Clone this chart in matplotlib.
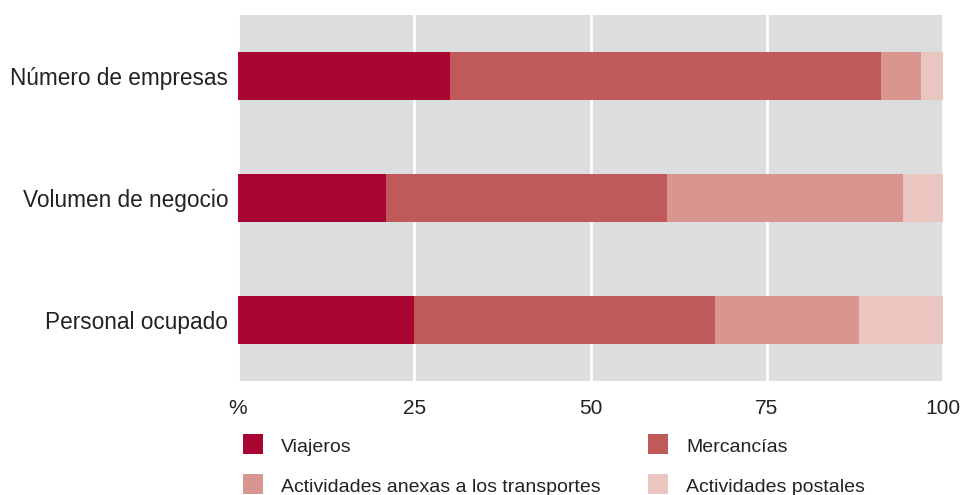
import matplotlib
matplotlib.use("Agg")
import matplotlib.pyplot as plt
from matplotlib.patches import Rectangle

categories = ["Número de empresas", "Volumen de negocio", "Personal ocupado"]
series_names = ["Viajeros", "Mercancías", "Actividades anexas a los transportes", "Actividades postales"]
viajeros = [30.0, 21.0, 25.0]
mercancias = [61.2, 39.9, 42.7]
anexas = [5.7, 33.4, 20.4]
postales = [3.1, 5.7, 11.9]
xticks = [0, 25, 50, 75, 100]
xtick_labels = ["%", "25", "50", "75", "100"]

colors = ["#A80532", "#C0595A", "#D99590", "#EBC6C1"]
series = [viajeros, mercancias, anexas, postales]

plt.rcParams["font.family"] = ["Liberation Sans", "DejaVu Sans"]
text_color = "#222222"

fig = plt.figure(figsize=(9.63, 4.95), dpi=100)
ax = fig.add_axes([238/963, 1-381/495, (943-238)/963, (381-15)/495])
ax.set_facecolor("#DCDDDF")

ypos = list(range(len(categories)))
left = [0.0]*len(categories)
for vals, col, name in zip(series, colors, series_names):
    ax.barh(ypos, vals, left=left, height=0.393, color=col, label=name, zorder=3)
    left = [l+v for l, v in zip(left, vals)]

ax.set_xlim(0, 100)
ax.set_ylim(2.5, -0.5)
ax.set_yticks(ypos)
ax.set_yticklabels(categories, fontsize=16.3, color=text_color)
ax.set_xticks(xticks)
ax.set_xticklabels(xtick_labels, fontsize=15, color=text_color)
ax.tick_params(axis="both", length=0)
ax.tick_params(axis="y", pad=7)
ax.tick_params(axis="x", pad=13)
for s in ax.spines.values():
    s.set_visible(False)
ax.grid(axis="x", color="white", linewidth=2, zorder=1)
ax.set_axisbelow(True)

# legend (2 columns)
col_x = [243, 648]
row_y = [434, 474]
for i, (name, col) in enumerate(zip(series_names, colors)):
    r, c = divmod(i, 2)
    x0, y0 = col_x[c], row_y[r]
    fig.add_artist(Rectangle((x0/963, 1-(y0+20)/495), 20/963, 20/495,
                             transform=fig.transFigure, facecolor=col, edgecolor="none"))
    fig.text((x0+38)/963, 1-(y0+13)/495, name, fontsize=14, color=text_color,
             va="center", ha="left")

fig.savefig("out.png", dpi=100)
